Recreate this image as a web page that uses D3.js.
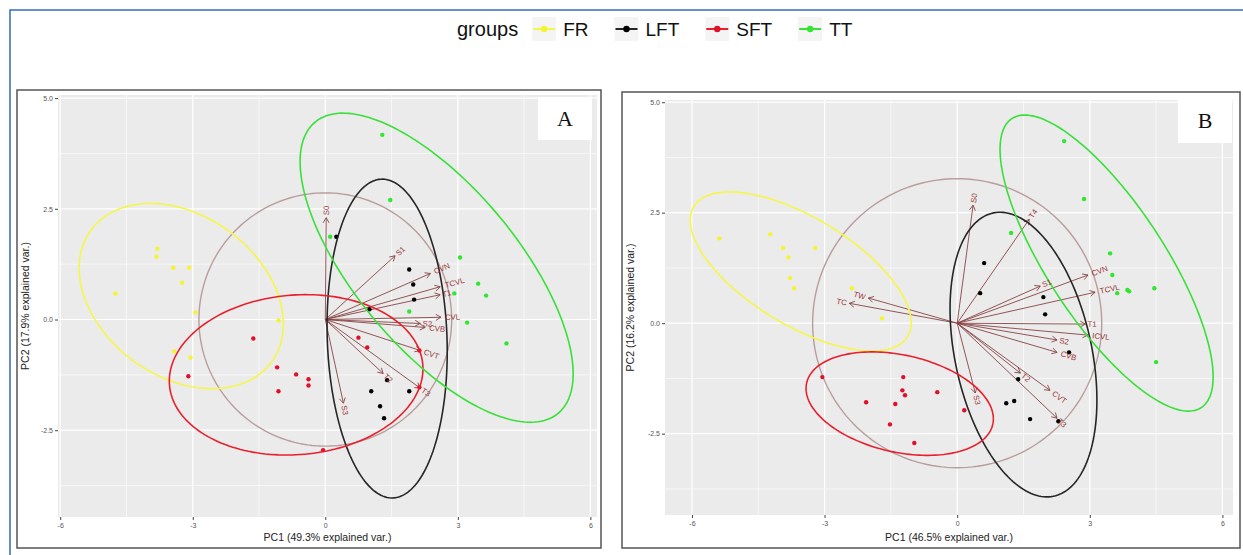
<!DOCTYPE html>
<html><head><meta charset="utf-8">
<script src="https://cdn.jsdelivr.net/npm/d3@7"></script>
<style>body{margin:0;background:#fff;} svg{display:block;font-family:"Liberation Sans",Arial,sans-serif;}</style>
</head><body><svg id="c" width="1243" height="555"></svg>
<script>
// ---------- shared ----------
const groups = ["FR","LFT","SFT","TT"];
const xTicks = [-6,-3,0,3,6];
const xTickLabels = ["-6","-3","0","3","6"];
const yTicks = [-2.5,0,2.5,5];
const yTickLabels = ["-2.5","0.0","2.5","5.0"];
const xMinor = [-4.5,-1.5,1.5,4.5];
const yMinor = [-3.75,-1.25,1.25,3.75];

// ---------- panel A ----------
const A_tag = "A";
const A_xTitle = "PC1 (49.3% explained var.)";
const A_yTitle = "PC2 (17.9% explained var.)";
const A_FR = [[-4.75,0.59],[-3.80,1.60],[-3.82,1.42],[-3.44,1.17],[-3.08,1.17],[-3.24,0.83],[-2.94,0.16],[-1.06,-0.02],[-3.42,-0.72],[-3.05,-0.86]];
const A_LFT = [[0.25,1.87],[1.90,1.13],[1.99,0.79],[2.01,0.45],[1.00,0.23],[1.40,-1.37],[1.04,-1.62],[1.90,-1.62],[1.24,-1.96],[1.33,-2.23]];
const A_SFT = [[-1.63,-0.43],[-3.10,-1.28],[-1.09,-1.08],[-0.66,-1.24],[-1.06,-1.62],[-0.38,-1.35],[-0.38,-1.49],[-0.05,-2.95],[0.75,-0.41],[0.95,-0.63],[2.13,-0.70],[2.13,-1.53]];
const A_TT = [[1.29,4.17],[1.47,2.70],[0.11,1.87],[3.05,1.40],[3.46,0.81],[2.92,0.59],[3.64,0.54],[1.90,0.18],[3.21,-0.07],[4.10,-0.54]];
const A_vars = ["S0","S1","CVN","TCVL","T1","CVL","S2","CVB","CVT","T2","T3","S3"];
const A_loadX = [0.02,1.58,2.38,2.60,2.60,2.62,2.15,2.26,2.15,1.31,2.15,0.41];
const A_loadY = [2.30,1.44,1.04,0.74,0.56,0.05,-0.09,-0.18,-0.70,-1.22,-1.55,-1.89];
// ellipse per group: centre and covariance-like shape [sxx, syy, sxy]
const A_ellCenter = [[-3.26,0.53],[1.40,-0.43],[-0.66,-1.25],[2.52,1.17]];
const A_ellShape = [[5.34,4.37,-1.46],[1.85,12.96,-0.40],[8.24,3.28,0.40],[9.55,12.18,-7.40]];
const A_circleR = 2.86;

// ---------- panel B ----------
const B_tag = "B";
const B_xTitle = "PC1 (46.5% explained var.)";
const B_yTitle = "PC2 (16.2% explained var.)";
const B_FR = [[-5.38,1.92],[-4.23,2.01],[-3.94,1.70],[-3.82,1.49],[-3.21,1.70],[-3.78,1.02],[-3.69,0.79],[-2.38,0.79],[-1.70,0.11]];
const B_LFT = [[0.61,1.36],[0.52,0.68],[1.95,0.59],[1.99,0.20],[2.53,-0.66],[1.38,-1.27],[1.11,-1.81],[1.29,-1.76],[1.65,-2.17],[2.29,-2.22]];
const B_SFT = [[-3.05,-1.22],[-2.06,-1.79],[-1.22,-1.22],[-1.24,-1.52],[-1.18,-1.63],[-1.40,-1.83],[-1.52,-2.29],[-0.97,-2.71],[-0.45,-1.56],[0.16,-1.97]];
const B_TT = [[2.42,4.12],[2.87,2.81],[1.22,2.04],[3.46,1.58],[3.51,1.09],[3.62,0.68],[3.85,0.75],[3.89,0.72],[4.46,0.79],[4.50,-0.88]];
const B_vars = ["S0","T4","S1","CVN","TCVL","T1","ICVL","S2","CVB","T2","CVT","T3","S3","TW","TC"];
const B_loadX = [0.36,1.63,1.88,2.96,3.12,2.90,2.96,2.26,2.26,1.43,2.10,2.26,0.41,-2.01,-2.44];
const B_loadY = [2.67,2.35,0.84,1.09,0.70,-0.02,-0.27,-0.38,-0.66,-1.13,-1.52,-2.15,-1.58,0.57,0.45];
const B_ellCenter = [[-3.54,1.17],[1.50,-0.71],[-1.30,-1.82],[3.38,1.36]];
const B_ellShape = [[6.25,3.24,-2.90],[2.76,10.37,-1.71],[4.49,1.37,-0.73],[5.81,11.22,-6.20]];
const B_circleR = 3.27;

// ---------- styles ----------
const pointColor = {FR:"#f4f430", LFT:"#000000", SFT:"#e0102a", TT:"#2ee82e"};
const ellColor = {FR:"#f6f64a", LFT:"#262626", SFT:"#e8202e", TT:"#38e038"};
const arrowColor = "#874444";
const labelColor = "#9a3535";

const svg = d3.select("#c");

// outer blue frame
svg.append("rect").attr("x",10).attr("y",10).attr("width",1300).attr("height",600)
  .attr("fill","none").attr("stroke","#4472C4").attr("stroke-width",1.6);

function panel(p){
  const g = svg.append("g");
  g.append("rect").attr("x",p.frame[0]).attr("y",p.frame[1])
    .attr("width",p.frame[2]-p.frame[0]).attr("height",p.frame[3]-p.frame[1])
    .attr("fill","#fff").attr("stroke","#555").attr("stroke-width",1.5);
  const x = d3.scaleLinear().domain(p.xd).range(p.xr);
  const y = d3.scaleLinear().domain(p.yd).range(p.yr);
  const top = p.yr[1], bot = p.yr[0], left = p.xr[0], right = p.xr[1];
  g.append("rect").attr("x",left).attr("y",top).attr("width",right-left).attr("height",bot-top).attr("fill","#EBEBEB");
  const clip = "clip"+p.tag;
  svg.append("defs").append("clipPath").attr("id",clip).append("rect")
    .attr("x",left).attr("y",top).attr("width",right-left).attr("height",bot-top);
  const pg = g.append("g").attr("clip-path",`url(#${clip})`);
  xMinor.forEach(v=>pg.append("line").attr("x1",x(v)).attr("x2",x(v)).attr("y1",top).attr("y2",bot).attr("stroke","#fff").attr("stroke-width",0.6));
  yMinor.forEach(v=>pg.append("line").attr("y1",y(v)).attr("y2",y(v)).attr("x1",left).attr("x2",right).attr("stroke","#fff").attr("stroke-width",0.6));
  xTicks.forEach(v=>pg.append("line").attr("x1",x(v)).attr("x2",x(v)).attr("y1",top).attr("y2",bot).attr("stroke","#fff").attr("stroke-width",1.2));
  yTicks.forEach(v=>pg.append("line").attr("y1",y(v)).attr("y2",y(v)).attr("x1",left).attr("x2",right).attr("stroke","#fff").attr("stroke-width",1.2));

  // correlation circle
  const ang = d3.range(0,361,2).map(d=>d*Math.PI/180);
  const line = d3.line().x(d=>x(d[0])).y(d=>y(d[1]));
  pg.append("path").attr("d",line(ang.map(t=>[p.circleR*Math.cos(t),p.circleR*Math.sin(t)])))
    .attr("fill","none").attr("stroke","#b99d9d").attr("stroke-width",1.4);

  // arrows
  p.loadX.forEach((lx,i)=>{
    const ly = p.loadY[i];
    const x0=x(0), y0=y(0), x1=x(lx), y1=y(ly);
    pg.append("line").attr("x1",x0).attr("y1",y0).attr("x2",x1).attr("y2",y1)
      .attr("stroke",arrowColor).attr("stroke-width",0.9);
    const a = Math.atan2(y1-y0,x1-x0), L=6, w=Math.PI/6;
    pg.append("path").attr("d",`M${x1-L*Math.cos(a-w)},${y1-L*Math.sin(a-w)}L${x1},${y1}L${x1-L*Math.cos(a+w)},${y1-L*Math.sin(a+w)}`)
      .attr("fill","none").attr("stroke",arrowColor).attr("stroke-width",0.9);
  });

  // points
  p.pts.forEach((arr,gi)=>{
    pg.selectAll(null).data(arr).enter().append("circle")
      .attr("cx",d=>x(d[0])).attr("cy",d=>y(d[1])).attr("r",2.2)
      .attr("fill",pointColor[groups[gi]]);
  });

  // ellipses
  p.ellCenter.forEach((c,gi)=>{
    const [sxx,syy,sxy] = p.ellShape[gi];
    const l11=Math.sqrt(sxx), l21=sxy/l11, l22=Math.sqrt(syy-l21*l21);
    const pts = ang.map(t=>[c[0]+l11*Math.cos(t), c[1]+l21*Math.cos(t)+l22*Math.sin(t)]);
    pg.append("path").attr("d",line(pts)).attr("fill","none")
      .attr("stroke",ellColor[groups[gi]]).attr("stroke-width",1.6);
  });

  // variable labels
  p.vars.forEach((name,i)=>{
    const lx=p.loadX[i], ly=p.loadY[i];
    const angle = Math.atan(ly/lx)*180/Math.PI;
    const hjust = (1-1.5*Math.sign(lx))/2;
    const t = pg.append("text").attr("transform",`translate(${x(lx)},${y(ly)}) rotate(${-angle})`)
      .attr("font-size",7.8).attr("fill",labelColor).attr("dy","0.35em").text(name);
    const wd = t.node().getComputedTextLength();
    t.attr("dx",-hjust*wd);
  });

  // axes
  const ax = g.append("g").attr("transform",`translate(0,${bot})`)
    .call(d3.axisBottom(x).tickValues(xTicks).tickFormat((d,i)=>xTickLabels[i]).tickSize(3).tickPadding(3));
  const ay = g.append("g").attr("transform",`translate(${left},0)`)
    .call(d3.axisLeft(y).tickValues(yTicks).tickFormat((d,i)=>yTickLabels[i]).tickSize(3).tickPadding(2));
  [ax,ay].forEach(a=>{
    a.attr("color","#555");
    a.select(".domain").remove();
    a.selectAll(".tick line").attr("stroke","#444");
    a.selectAll(".tick text").attr("fill","#555").attr("font-size",7).attr("font-family","Liberation Sans, Arial, sans-serif");
  });

  // titles
  g.append("text").attr("x",(left+right)/2).attr("y",p.frame[3]-7).attr("text-anchor","middle")
    .attr("font-size",10.5).attr("fill","#222").text(p.xTitle);
  g.append("text").attr("transform",`translate(${p.frame[0]+12},${(top+bot)/2}) rotate(-90)`)
    .attr("text-anchor","middle").attr("font-size",10.5).attr("fill","#222").text(p.yTitle);

  // tag box
  g.append("rect").attr("x",p.tagBox[0]).attr("y",p.tagBox[1]).attr("width",p.tagBox[2]-p.tagBox[0])
    .attr("height",p.tagBox[3]-p.tagBox[1]).attr("fill","#fff");
  g.append("text").attr("x",(p.tagBox[0]+p.tagBox[2])/2).attr("y",(p.tagBox[1]+p.tagBox[3])/2)
    .attr("dy","0.36em").attr("text-anchor","middle").attr("font-family","Liberation Serif, DejaVu Serif, serif")
    .attr("font-size",22).attr("fill","#111").text(p.tag);
}

panel({tag:A_tag, frame:[17,90,601,548], xd:[-6.05,6.15], xr:[58,597], yd:[-4.46,5.07], yr:[517,95],
  pts:[A_FR,A_LFT,A_SFT,A_TT], vars:A_vars, loadX:A_loadX, loadY:A_loadY,
  ellCenter:A_ellCenter, ellShape:A_ellShape, circleR:A_circleR,
  xTitle:A_xTitle, yTitle:A_yTitle, tagBox:[538,97,592,140]});
panel({tag:B_tag, frame:[622,92,1240,548], xd:[-6.61,6.24], xr:[665,1233], yd:[-4.34,5.05], yr:[515,100],
  pts:[B_FR,B_LFT,B_SFT,B_TT], vars:B_vars, loadX:B_loadX, loadY:B_loadY,
  ellCenter:B_ellCenter, ellShape:B_ellShape, circleR:B_circleR,
  xTitle:B_xTitle, yTitle:B_yTitle, tagBox:[1178,98,1232,143]});

// legend
const lg = svg.append("g");
const title = lg.append("text").attr("x",457).attr("y",36).attr("font-size",20).attr("fill","#111").text("groups");
let cx = 457 + title.node().getComputedTextLength() + 14;
groups.forEach(gname=>{
  lg.append("rect").attr("x",cx).attr("y",17).attr("width",24).attr("height",24).attr("fill","#F4F4F4");
  lg.append("line").attr("x1",cx+1).attr("x2",cx+23).attr("y1",29).attr("y2",29).attr("stroke",ellColor[gname]).attr("stroke-width",2);
  lg.append("circle").attr("cx",cx+12).attr("cy",29).attr("r",3.2).attr("fill",pointColor[gname]);
  const t = lg.append("text").attr("x",cx+31).attr("y",36).attr("font-size",19).attr("fill","#111").text(gname);
  cx = cx + 31 + t.node().getComputedTextLength() + 26;
});
</script></body></html>
